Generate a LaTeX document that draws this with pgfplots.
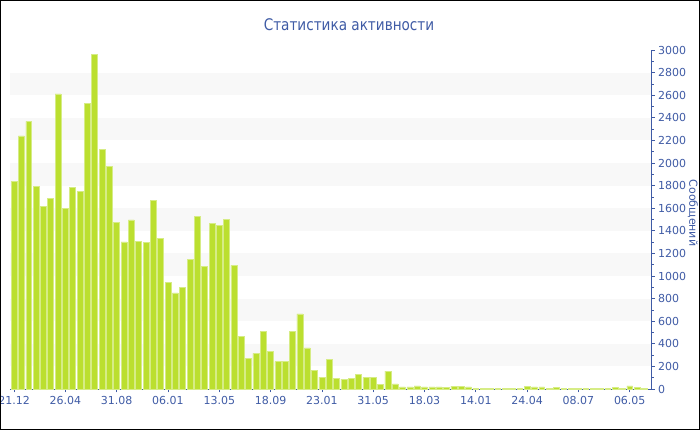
\documentclass[border=0pt]{standalone}
\usepackage{pgfplots}
\usepackage{pgfplotstable}
\pgfplotsset{compat=1.18}
\usepackage{fontspec}
\setmainfont{DejaVu Sans}
\newfontfamily\titlefont[FakeStretch=0.85]{DejaVu Sans}
\definecolor{barfill}{HTML}{BBDF2F}
\definecolor{baredge}{HTML}{D6EC86}
\definecolor{axcol}{HTML}{3F5BA5}
\definecolor{bandcol}{HTML}{F8F8F8}

\pgfplotstableread{
x y
0 1835
1 2239
2 2369
3 1796
4 1619
5 1684
6 2611
7 1596
8 1782
9 1746
10 2525
11 2962
12 2118
13 1971
14 1472
15 1301
16 1496
17 1307
18 1298
19 1670
20 1330
21 944
22 850
23 900
24 1150
25 1525
26 1088
27 1463
28 1445
29 1498
30 1095
31 463
32 274
33 316
34 510
35 336
36 242
37 242
38 507
39 664
40 363
41 162
42 106
43 265
44 97
45 88
46 91
47 130
48 103
49 103
50 41
51 159
52 45
53 18
54 18
55 27
56 18
57 18
58 18
59 15
60 25
61 20
62 18
63 8
64 6
65 6
66 6
67 6
68 6
69 6
70 20
71 18
72 18
73 8
74 14
75 6
76 6
77 6
78 6
79 8
80 8
81 6
82 14
83 6
84 28
85 12
86 8
}\datatable

\begin{document}
\begin{tikzpicture}
\useasboundingbox (0,0) rectangle (700bp,430bp);
\begin{axis}[
  at={(10bp,41bp)}, anchor=south west,
  scale only axis, width=641bp, height=339bp,
  xmin=-0.55, xmax=86.9, ymin=0, ymax=3000,
  axis x line*=bottom, axis y line*=right,
  axis line style={axcol, line width=0.9bp},
  ybar, bar width=0.8,
  xtick={0,7,...,84},
  xticklabels={21.12,26.04,31.08,06.01,13.05,18.09,23.01,31.05,18.03,14.01,24.04,08.07,06.05},
  ytick={0,200,...,3000},
  minor y tick num=1,
  tick align=outside,
  major tick length=3.5bp, minor tick length=2.5bp,
  tick style={axcol, line width=0.7bp},
  ticklabel style={font=\fontsize{11bp}{13bp}\selectfont, text=axcol},
  /pgf/number format/assume math mode=true,
  /pgf/number format/1000 sep={},
  clip=false,
]
\fill[bandcol] (axis cs:-0.55,200) rectangle (axis cs:86.9,400);
\fill[bandcol] (axis cs:-0.55,600) rectangle (axis cs:86.9,800);
\fill[bandcol] (axis cs:-0.55,1000) rectangle (axis cs:86.9,1200);
\fill[bandcol] (axis cs:-0.55,1400) rectangle (axis cs:86.9,1600);
\fill[bandcol] (axis cs:-0.55,1800) rectangle (axis cs:86.9,2000);
\fill[bandcol] (axis cs:-0.55,2200) rectangle (axis cs:86.9,2400);
\fill[bandcol] (axis cs:-0.55,2600) rectangle (axis cs:86.9,2800);
\addplot[fill=barfill, draw=baredge, line width=0.5bp] table[x=x,y=y]{\datatable};
\end{axis}
\node[text=axcol, font=\titlefont\fontsize{16bp}{19bp}\selectfont] at (349bp,405bp) {Статистика активности};
\node[text=axcol, rotate=-90, font=\fontsize{11bp}{13bp}\selectfont] at (693bp,217bp) {Сообщений};
\draw[black, line width=2bp] (0,0) rectangle (700bp,430bp);
\end{tikzpicture}
\end{document}
